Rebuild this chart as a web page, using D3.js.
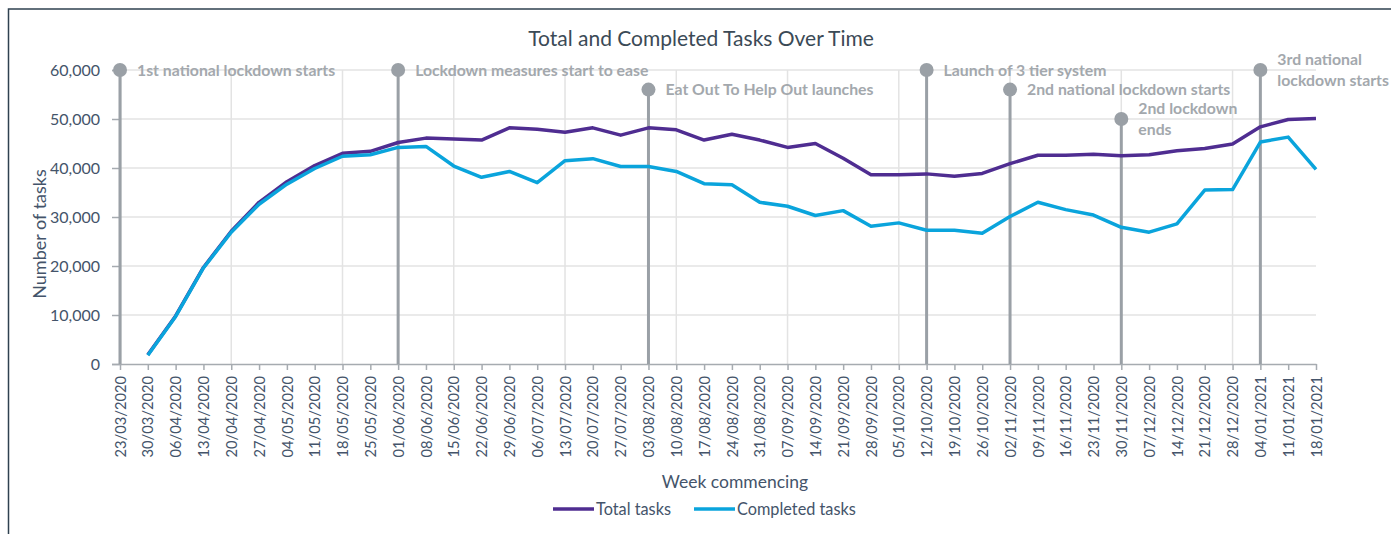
<!DOCTYPE html>
<head>
  <meta charset="utf-8">
  <title>Total and Completed Tasks Over Time</title>
  <script type="text/javascript" src="https://d3js.org/d3.v7.min.js"></script>
  <style>
    body { margin: 0; background: #fff; }
    text { font-family: Lato, "Open Sans", sans-serif; }
  </style>
</head>
<body>
<script>
  // weekly categories (week commencing)
  var weeks = ["23/03/2020", "30/03/2020", "06/04/2020", "13/04/2020", "20/04/2020", "27/04/2020",
    "04/05/2020", "11/05/2020", "18/05/2020", "25/05/2020", "01/06/2020", "08/06/2020",
    "15/06/2020", "22/06/2020", "29/06/2020", "06/07/2020", "13/07/2020", "20/07/2020",
    "27/07/2020", "03/08/2020", "10/08/2020", "17/08/2020", "24/08/2020", "31/08/2020",
    "07/09/2020", "14/09/2020", "21/09/2020", "28/09/2020", "05/10/2020", "12/10/2020",
    "19/10/2020", "26/10/2020", "02/11/2020", "09/11/2020", "16/11/2020", "23/11/2020",
    "30/11/2020", "07/12/2020", "14/12/2020", "21/12/2020", "28/12/2020", "04/01/2021",
    "11/01/2021", "18/01/2021"];

  var totalTasks = [null, 1900, 9800, 19700, 27100, 33000, 37200, 40500, 43000, 43400, 45200, 46100,
    45900, 45700, 48200, 47900, 47300, 48200, 46700, 48200, 47800, 45700, 46900, 45700,
    44200, 45000, 42000, 38600, 38600, 38800, 38300, 38900, 40900, 42600, 42600, 42800,
    42500, 42700, 43500, 44000, 44900, 48400, 49900, 50100];

  var completedTasks = [null, 1800, 9700, 19600, 26900, 32600, 36700, 39900, 42400, 42700, 44200, 44400,
    40400, 38100, 39300, 37000, 41500, 41900, 40300, 40300, 39300, 36800, 36600, 33000,
    32200, 30300, 31300, 28100, 28800, 27300, 27300, 26700, 30100, 33000, 31500, 30400,
    27900, 26900, 28600, 35500, 35600, 45300, 46300, 39700];

  var yTicks = [0, 10000, 20000, 30000, 40000, 50000, 60000];

  // annotated events: week, marker height, label lines
  var eventWeeks = ["23/03/2020", "01/06/2020", "03/08/2020", "12/10/2020", "02/11/2020", "30/11/2020", "04/01/2021"];
  var eventLevels = [60000, 60000, 56000, 60000, 56000, 50000, 60000];
  var eventLabels = [["1st national lockdown starts"], ["Lockdown measures start to ease"],
    ["Eat Out To Help Out launches"], ["Launch of 3 tier system"], ["2nd national lockdown starts"],
    ["2nd lockdown", "ends"], ["3rd national", "lockdown starts"]];

  var seriesNames = ["Total tasks", "Completed tasks"];
  var seriesColors = ["#4f2d91", "#0aa4dc"];

  var W = 1391, H = 534;
  var pLeft = 120, pRight = 1316, pTop = 70, pBottom = 364;
  var textColor = "#44546a", gridColor = "#e3e3e3", axisColor = "#a6abb0", eventColor = "#9aa0a6";

  var svg = d3.select("body").append("svg").attr("width", W).attr("height", H);

  // outer chart border
  svg.append("rect").attr("x", 8.5).attr("y", 9).attr("width", W + 20).attr("height", H + 20)
    .attr("fill", "none").attr("stroke", "#2f4150").attr("stroke-width", 1.5);

  var x = d3.scalePoint().domain(weeks).range([pLeft, pRight]);
  var y = d3.scaleLinear().domain([0, 60000]).range([pBottom, pTop]);

  // title
  svg.append("text").attr("x", 701).attr("y", 46).attr("text-anchor", "middle")
    .attr("font-size", 21).attr("fill", "#3b4a56").text("Total and Completed Tasks Over Time");

  // gridlines
  svg.append("g").selectAll("line").data(yTicks.filter(function(d) { return d > 0; })).enter()
    .append("line").attr("x1", pLeft).attr("x2", pRight).attr("y1", function(d) { return y(d); })
    .attr("y2", function(d) { return y(d); }).attr("stroke", gridColor).attr("stroke-width", 1.5);
  svg.append("g").selectAll("line").data(weeks.filter(function(d, i) { return i % 4 == 0 && i > 0; })).enter()
    .append("line").attr("x1", function(d) { return x(d); }).attr("x2", function(d) { return x(d); })
    .attr("y1", pTop).attr("y2", pBottom).attr("stroke", gridColor).attr("stroke-width", 1.5);

  // y axis
  var gy = svg.append("g").attr("transform", "translate(" + pLeft + ",0)")
    .call(d3.axisLeft(y).tickValues(yTicks).tickFormat(d3.format(",")).tickSize(8).tickPadding(12));
  gy.select(".domain").attr("stroke", axisColor).attr("stroke-width", 1.5);
  gy.selectAll(".tick line").attr("stroke", axisColor).attr("stroke-width", 1.5);
  gy.selectAll("text").attr("font-size", 16).attr("fill", textColor).attr("font-family", "Lato, sans-serif");

  // x axis
  var gx = svg.append("g").attr("transform", "translate(0," + pBottom + ")")
    .call(d3.axisBottom(x).tickSize(6).tickSizeOuter(0));
  gx.select(".domain").attr("stroke", axisColor).attr("stroke-width", 1.5);
  gx.selectAll(".tick line").attr("stroke", axisColor).attr("stroke-width", 1.5);
  gx.selectAll("text").attr("font-size", 14.7).attr("fill", textColor).attr("font-family", "Lato, sans-serif")
    .attr("transform", "rotate(-90)").attr("text-anchor", "end")
    .attr("x", -12).attr("y", 0).attr("dy", "0.35em");

  // axis titles
  svg.append("text").attr("transform", "translate(40,234) rotate(-90)")
    .attr("text-anchor", "middle").attr("dy", "0.35em").attr("font-size", 18).attr("fill", textColor)
    .text("Number of tasks");
  svg.append("text").attr("x", 735).attr("y", 488).attr("text-anchor", "middle")
    .attr("font-size", 17.5).attr("fill", textColor).text("Week commencing");

  // event markers
  var ev = svg.append("g").selectAll("g").data(eventWeeks).enter().append("g");
  ev.append("line").attr("x1", function(d) { return x(d); }).attr("x2", function(d) { return x(d); })
    .attr("y1", pBottom).attr("y2", function(d, i) { return y(eventLevels[i]); })
    .attr("stroke", eventColor).attr("stroke-width", 3);
  ev.append("circle").attr("cx", function(d) { return x(d); })
    .attr("cy", function(d, i) { return y(eventLevels[i]); }).attr("r", 7).attr("fill", eventColor);
  ev.each(function(d, i) {
    var lines = eventLabels[i];
    var t = d3.select(this).append("text").attr("font-size", 15.8).attr("font-weight", "bold")
      .attr("fill", "#a3a8ad")
      .attr("y", y(eventLevels[i]) - (lines.length - 1) * 10.5);
    lines.forEach(function(s, k) {
      t.append("tspan").attr("x", x(d) + 17).attr("dy", k == 0 ? "0.35em" : "21px").text(s);
    });
  });

  // series lines
  var line = d3.line().defined(function(d) { return d != null; })
    .x(function(d, i) { return x(weeks[i]); }).y(function(d) { return y(d); });
  [totalTasks, completedTasks].forEach(function(s, k) {
    svg.append("path").datum(s).attr("fill", "none").attr("stroke", seriesColors[k])
      .attr("stroke-width", 3.5).attr("stroke-linejoin", "round").attr("d", line);
  });

  // legend
  var legX = [553, 694];
  seriesNames.forEach(function(n, k) {
    svg.append("line").attr("x1", legX[k]).attr("x2", legX[k] + 41).attr("y1", 509).attr("y2", 509)
      .attr("stroke", seriesColors[k]).attr("stroke-width", 3.5);
    svg.append("text").attr("x", legX[k] + 43).attr("y", 509).attr("dy", "0.35em")
      .attr("font-size", 16.3).attr("fill", textColor).text(n);
  });
</script>
</body>
